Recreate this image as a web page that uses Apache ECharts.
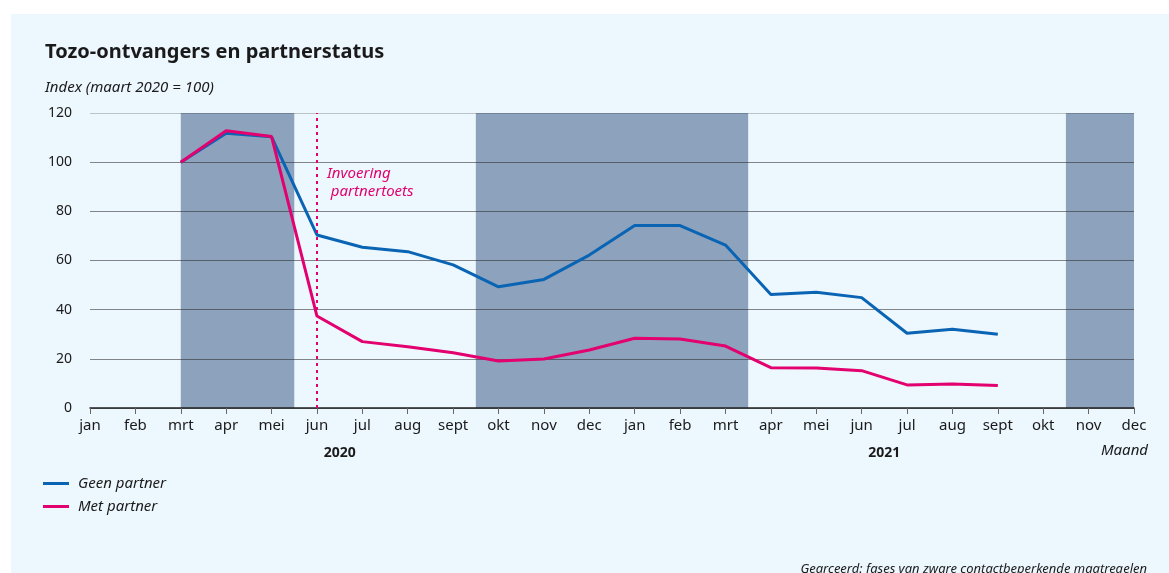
<!DOCTYPE html>
<html lang="nl">
<head>
	<meta charset="UTF-8">
	<title>Tozo-ontvangers en partnerstatus</title>
	<style type="text/css">
	html, body {
		margin: 0;
		padding: 0;
		background: #fff;
	}
	#chart {
		width: 1169px;
		height: 573px;
	}
	</style>
</head>
<body>
	<div id="chart"></div>

	<script type="text/javascript" src="https://cdn.jsdelivr.net/npm/echarts@6/dist/echarts.min.js"></script>
	<script type="text/javascript">

		// maanden jan 2020 t/m dec 2021 (index 0..23)
		var months = ['jan', 'feb', 'mrt', 'apr', 'mei', 'jun', 'jul', 'aug', 'sept', 'okt', 'nov', 'dec',
			'jan', 'feb', 'mrt', 'apr', 'mei', 'jun', 'jul', 'aug', 'sept', 'okt', 'nov', 'dec'];
		var years = ['2020', '2021'];

		// index waarden vanaf mrt 2020 (index 2) t/m sept 2021 (index 20)
		var startIndex = 2;
		var geenPartner = [100, 111.8, 110.3, 70.4, 65.4, 63.6, 58.2, 49.3, 52.3, 62.2, 74.2, 74.2, 66.3,
			46.2, 47.1, 44.9, 30.4, 32.0, 30.0];
		var metPartner = [100, 112.8, 110.4, 37.4, 27.0, 24.9, 22.5, 19.1, 19.9, 23.6, 28.4, 28.1, 25.2,
			16.4, 16.3, 15.2, 9.4, 9.8, 9.2];

		// gearceerde fases (maandindex, halve maanden)
		var lockdowns = [[2, 4.5], [8.5, 14.5], [21.5, 23]];
		var partnertoets = 5;

		var blue = '#0a64b4';
		var pink = '#e3006f';
		var textColor = '#1a1a1a';
		var font = 'Noto Sans';

		function toPairs (values) {
			return values.map(function (v, i) {
				return [startIndex + i, v];
			});
		}

		var chart = echarts.init(document.getElementById('chart'));

		var option = {
			backgroundColor: '#ffffff',
			animation: false,
			textStyle: { fontFamily: font, color: textColor },
			grid: { left: 90, right: 35, top: 113, bottom: 165 },
			title: [{
				text: 'Tozo-ontvangers en partnerstatus',
				left: 40, top: 37,
				textStyle: { fontSize: 20, fontWeight: 'bold', color: textColor, fontFamily: font }
			}, {
				text: 'Index (maart 2020 = 100)',
				left: 40, top: 75,
				textStyle: { fontSize: 15, fontStyle: 'italic', fontWeight: 'normal', color: textColor, fontFamily: font }
			}],
			legend: {
				orient: 'vertical',
				left: 38, top: 471,
				itemWidth: 26, itemHeight: 3, itemGap: 8,
				icon: 'rect',
				textStyle: { fontSize: 15, fontStyle: 'italic', color: textColor, fontFamily: font, padding: [0, 0, 0, 4] },
				data: ['Geen partner', 'Met partner']
			},
			xAxis: {
				type: 'value',
				min: 0, max: 23, interval: 1,
				z: 1.5,
				axisLine: { lineStyle: { color: '#222', width: 1.5 } },
				axisTick: { show: true, length: 6, lineStyle: { color: '#666' } },
				splitLine: { show: false },
				axisLabel: {
					fontSize: 15, color: textColor, margin: 10,
					formatter: function (v) { return months[v]; }
				}
			},
			yAxis: {
				type: 'value',
				min: 0, max: 120, interval: 20,
				z: 1.5,
				axisLine: { show: false },
				axisTick: { show: false },
				axisLabel: { fontSize: 14, color: textColor, margin: 18 },
				splitLine: {
					lineStyle: {
						width: 1.2,
						color: ['rgba(40,40,40,0.55)', 'rgba(40,40,40,0.55)', 'rgba(40,40,40,0.55)',
							'rgba(40,40,40,0.55)', 'rgba(40,40,40,0.55)', 'rgba(40,40,40,0.55)',
							'rgba(40,40,40,0.25)']
					}
				}
			},
			graphic: [{
				type: 'rect',
				z: -100,
				shape: { x: 11, y: 14, width: 1158, height: 559 },
				style: { fill: '#edf7fe' },
				silent: true
			}, {
				type: 'text',
				right: 21, top: 443,
				style: { text: 'Maand', fontSize: 15, fontStyle: 'italic', fill: textColor, fontFamily: font }
			}, {
				type: 'text',
				right: 22, top: 563,
				style: { text: 'Gearceerd: fases van zware contactbeperkende maatregelen', fontSize: 13, fontStyle: 'italic', fill: textColor, fontFamily: font }
			}],
			series: [{
				name: 'lockdown',
				type: 'line',
				data: [],
				silent: true,
				markArea: {
					silent: true,
					itemStyle: { color: '#8ca2bd' },
					data: lockdowns.map(function (p) {
						return [{ xAxis: p[0], yAxis: 0 }, { xAxis: p[1], yAxis: 120 }];
					})
				}
			}, {
				name: 'Geen partner',
				type: 'line',
				data: toPairs(geenPartner),
				showSymbol: false,
				symbol: 'none',
				color: blue,
				lineStyle: { color: blue, width: 3 }
			}, {
				name: 'Met partner',
				type: 'line',
				data: toPairs(metPartner),
				showSymbol: false,
				symbol: 'none',
				color: pink,
				lineStyle: { color: pink, width: 3 },
				markLine: {
					silent: true,
					symbol: 'none',
					label: { show: false },
					lineStyle: { color: pink, type: [3, 4], width: 2 },
					data: [{ xAxis: partnertoets }]
				},
				markPoint: {
					silent: true,
					symbol: 'circle',
					symbolSize: 0,
					label: {
						show: true,
						position: 'right',
						distance: 10,
						color: pink,
						fontSize: 15,
						fontStyle: 'italic',
						fontFamily: font,
						lineHeight: 18,
						formatter: 'Invoering\n partnertoets'
					},
					data: [{ coord: [partnertoets, 91.5] }]
				}
			}]
		};

		chart.setOption(option);

		// jaartallen onder de maanden, gecentreerd per jaar
		var yearGraphics = years.map(function (y, i) {
			var x0 = chart.convertToPixel({ gridIndex: 0 }, [i * 12, 0]);
			var x1 = chart.convertToPixel({ gridIndex: 0 }, [i * 12 + 11, 0]);
			return {
				type: 'text',
				x: (x0[0] + x1[0]) / 2,
				y: x0[1] + 45,
				style: {
					text: y, fontSize: 14, fontWeight: 'bold', fill: textColor, fontFamily: font,
					align: 'center', verticalAlign: 'middle'
				}
			};
		});
		chart.setOption({ graphic: option.graphic.concat(yearGraphics) });

	</script>
</body>
</html>
